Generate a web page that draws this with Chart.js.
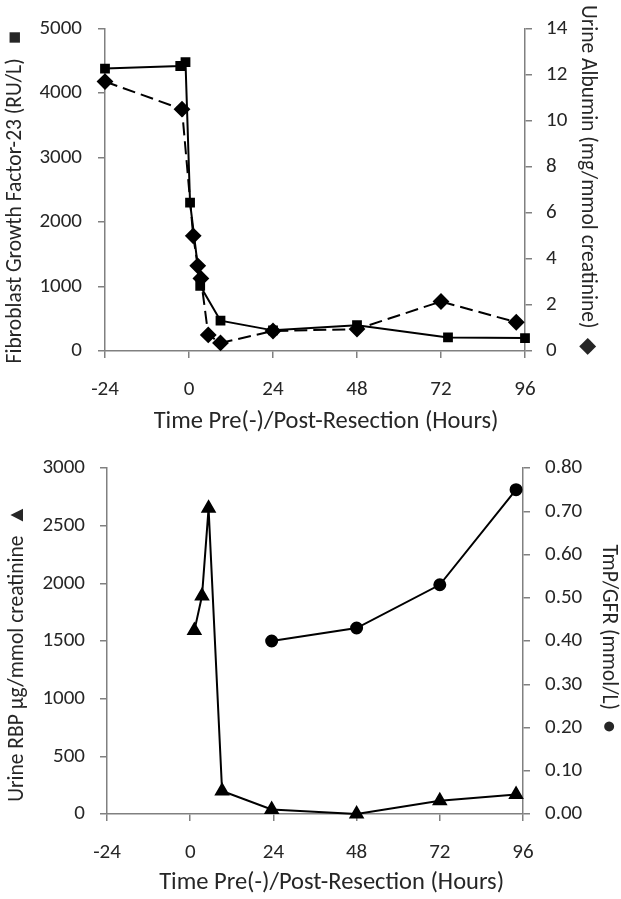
<!DOCTYPE html>
<html>
<head>
<meta charset="utf-8">
<script src="https://cdn.jsdelivr.net/npm/chart.js@4"></script>
<style>
  body { margin: 0; background: #fff; }
  canvas { display: block; }
</style>
</head>
<body>
<canvas id="topChart" width="621" height="440"></canvas>
<canvas id="bottomChart" width="621" height="459"></canvas>
<script>
// Time axis ticks (hours pre/post resection)
const hourTicks = [-24, 0, 24, 48, 72, 96];

// Top chart: FGF-23 (squares, solid) and urine albumin (diamonds, dashed)
const fgfHours = [-24, -2.5, -1, 0.3, 3.2, 9, 24, 48, 74, 96];
const fgfValues = [4380, 4420, 4480, 2300, 1010, 470, 320, 400, 210, 200];
const albHours = [-24, -2, 1.2, 2.5, 3.4, 5.5, 9, 24, 48, 72, 93.5];
const albValues = [11.7, 10.5, 5.0, 3.7, 3.15, 0.7, 0.35, 0.87, 0.95, 2.15, 1.25];

// Bottom chart: urine RBP (triangles) and TmP/GFR (circles)
const rbpHours = [1.2, 3.4, 5.3, 9.2, 23.5, 48, 72, 94];
const rbpValues = [1590, 1890, 2650, 200, 40, 0, 115, 170];
const tmpHours = [23.5, 48, 72, 94];
const tmpValues = [0.40, 0.43, 0.53, 0.75];

const FONT = "Carlito, Calibri, 'Open Sans', sans-serif";
const axisGray = '#808080';
const textColor = '#262626';
const tickFont = { size: 21 };
const yTitleFont = { size: 21.5 };
const xTitleFont = { size: 24.5 };

Chart.defaults.font.family = FONT;
Chart.defaults.color = textColor;

function toPoints(xs, ys) {
    return xs.map((x, i) => ({ x: x, y: ys[i] }));
}

// shared look for an axis
function axisStyle(extra) {
    return Object.assign({
        grid: { display: true, drawOnChartArea: false, color: axisGray, tickLength: 7, lineWidth: 1.5 },
        border: { display: true, color: axisGray, width: 1.5 },
    }, extra);
}

// leading spaces nudge the title a little right, like the original
function xAxis(height, titlePad, lead) {
    return axisStyle({
        type: 'linear',
        min: -24,
        max: 96,
        afterBuildTicks: scale => { scale.ticks = hourTicks.map(v => ({ value: v })); },
        ticks: { font: tickFont, padding: 19, color: textColor },
        title: { display: true, text: lead + 'Time Pre(-)/Post-Resection (Hours)', font: xTitleFont, padding: { top: 0, bottom: titlePad }, color: textColor },
        afterFit: scale => { scale.height = height; }
    });
}

// Top chart
new Chart(document.getElementById('topChart'), {
    type: 'line',
    data: {
        datasets: [
            {
                label: 'FGF-23',
                data: toPoints(fgfHours, fgfValues),
                yAxisID: 'y',
                borderColor: '#000',
                backgroundColor: '#000',
                borderWidth: 2,
                pointStyle: 'rect',
                pointRadius: 5.5,
                clip: false,
            },
            {
                label: 'Urine Albumin',
                data: toPoints(albHours, albValues),
                yAxisID: 'y1',
                borderColor: '#000',
                backgroundColor: '#000',
                borderWidth: 2,
                borderDash: [13, 6],
                pointStyle: 'rectRot',
                pointRadius: 7,
                clip: false,
            }
        ]
    },
    options: {
        responsive: false,
        animation: false,
        layout: { padding: { top: 13, left: 0, right: 0, bottom: 0 } },
        plugins: { legend: { display: false }, tooltip: { enabled: false } },
        scales: {
            x: xAxis(89, 3, '    '),
            y: axisStyle({
                position: 'left',
                min: 0, max: 5000,
                ticks: { stepSize: 1000, font: tickFont, padding: 16, color: textColor, callback: v => String(v) },
                title: { display: true, text: 'Fibroblast Growth Factor-23 (RU/L)   \u25A0   ', font: yTitleFont, padding: { top: 3, bottom: 0 }, color: textColor },
                afterFit: scale => { scale.width = 105; }
            }),
            y1: axisStyle({
                position: 'right',
                min: 0, max: 14,
                ticks: { stepSize: 2, font: tickFont, padding: 14, color: textColor },
                title: { display: true, text: 'Urine Albumin (mg/mmol creatinine)  \u25C6    ', font: yTitleFont, padding: { top: 21, bottom: 0 }, color: textColor },
                afterFit: scale => { scale.width = 96; }
            })
        }
    }
});

// Bottom chart
new Chart(document.getElementById('bottomChart'), {
    type: 'line',
    data: {
        datasets: [
            {
                label: 'Urine RBP',
                data: toPoints(rbpHours, rbpValues),
                yAxisID: 'y',
                borderColor: '#000',
                backgroundColor: '#000',
                borderWidth: 2,
                pointStyle: 'triangle',
                pointRadius: 7,
                clip: false,
            },
            {
                label: 'TmP/GFR',
                data: toPoints(tmpHours, tmpValues),
                yAxisID: 'y1',
                borderColor: '#000',
                backgroundColor: '#000',
                borderWidth: 2,
                pointStyle: 'circle',
                pointRadius: 5.5,
                clip: false,
            }
        ]
    },
    options: {
        responsive: false,
        animation: false,
        layout: { padding: { top: 28, left: 0, right: 0, bottom: 0 } },
        plugins: { legend: { display: false }, tooltip: { enabled: false } },
        scales: {
            x: xAxis(85, 1, '      '),
            y: axisStyle({
                position: 'left',
                min: 0, max: 3000,
                ticks: { stepSize: 500, font: tickFont, padding: 15, color: textColor, callback: v => String(v) },
                title: { display: true, text: 'Urine RBP \u00B5g/mmol creatinine  \u25B2     ', font: yTitleFont, padding: { top: 5, bottom: 0 }, color: textColor },
                afterFit: scale => { scale.width = 107; }
            }),
            y1: axisStyle({
                position: 'right',
                min: 0, max: 0.8,
                ticks: { stepSize: 0.1, font: tickFont, padding: 15, color: textColor, callback: v => v.toFixed(2) },
                title: { display: true, text: 'TmP/GFR (mmol/L)  \u25CF ', font: yTitleFont, padding: { top: 0, bottom: 0 }, color: textColor },
                afterFit: scale => { scale.width = 98; }
            })
        }
    }
});
</script>
</body>
</html>
